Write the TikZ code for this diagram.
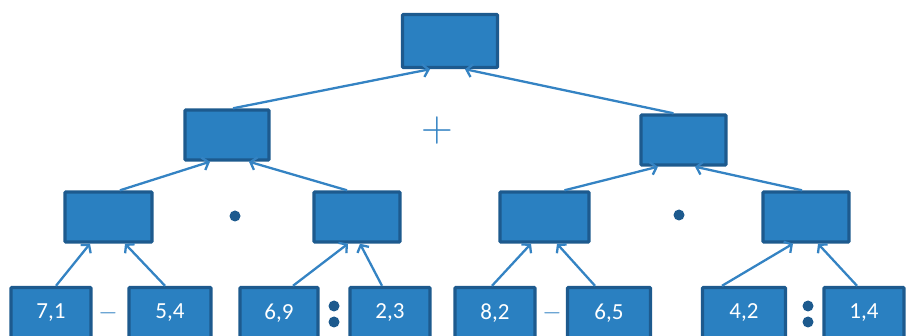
\documentclass[tikz,border=0pt]{standalone}
\usepackage{fontspec}
\newfontfamily\carlito{Carlito}
\usetikzlibrary{arrows.meta,calc}
\definecolor{boxfill}{HTML}{2A80C1}
\definecolor{boxline}{HTML}{1D5A8E}
\definecolor{arrowc}{HTML}{3483C3}
\begin{document}
\begin{tikzpicture}[x=1pt,y=-1pt,
  box/.style={draw=boxline,fill=boxfill,line width=3.4pt,rounded corners=1pt,
    minimum width=#1,minimum height=50pt,inner sep=0pt,text=white,
    font=\carlito\fontsize{23}{23}\selectfont},
  leaf/.style={box=#1,minimum height=51pt},
  arr/.style={draw=arrowc,line width=2.3pt,-{Straight Barb[length=5.5pt,width=13pt,line width=2.3pt]}},
  opdot/.style={circle,fill=boxline,inner sep=0pt,minimum size=11pt},
  optext/.style={text=arrowc,inner sep=0pt}]
\useasboundingbox (0,0) rectangle (907,336);
\clip (0,0) rectangle (907,336);
% top
\node[box=95pt,minimum height=53pt] (top) at (450,41) {};
% level 2
\node[box=84pt] (La) at (227,135) {};
\node[box=85pt] (Lb) at (683.5,140) {};
% level 3
\node[box=87pt] (Ma) at (108.5,217) {};
\node[box=86pt] (Mb) at (357,217) {};
\node[box=89pt] (Mc) at (544.5,217) {};
\node[box=86pt] (Md) at (806,217) {};
% leaves
\node[leaf=80pt] (b71) at (51,313) {7,1};
\node[leaf=82pt] (b54) at (170,313) {5,4};
\node[leaf=78pt] (b69) at (279,313) {6,9};
\node[leaf=80pt] (b23) at (390,313) {2,3};
\node[leaf=80pt] (b82) at (495,313) {8,2};
\node[leaf=83pt] (b65) at (609,313) {6,5};
\node[leaf=83pt] (b42) at (744,313) {4,2};
\node[leaf=80pt] (b14) at (864,313) {1,4};
% operators
\node[optext,font=\fontsize{44}{44}\selectfont] (plus) at (437,131) {+};
\node[opdot] (dota) at (235,216) {};
\node[opdot] (dotb) at (679,215) {};
\node[optext,font=\fontsize{24}{24}\selectfont] (mina) at (108,313) {$-$};
\node[optext,font=\fontsize{24}{24}\selectfont] (minb) at (552,313) {$-$};
\node[opdot] (cola1) at (334,306) {};
\node[opdot] (cola2) at (334,322) {};
\node[opdot] (colb1) at (808,306) {};
\node[opdot] (colb2) at (808,322) {};
% arrows to top
\draw[arr] ([xshift=6pt]La.north) -- ([xshift=-20pt]top.south);
\draw[arr] ([xshift=-10pt]Lb.north) -- ([xshift=15pt]top.south);
% level 3 -> level 2
\draw[arr] ([xshift=11.5pt]Ma.north) -- ([xshift=-17pt]La.south);
\draw[arr] ([xshift=-10pt]Mb.north) -- ([xshift=22pt]La.south);
\draw[arr] ([xshift=20pt]Mc.north) -- ([xshift=-25.5pt]Lb.south);
\draw[arr] ([xshift=-4pt]Md.north) -- ([xshift=11.5pt]Lb.south);
% leaves -> level 3
\draw[arr] ([xshift=5pt]b71.north) -- ([xshift=-18.5pt]Ma.south);
\draw[arr] ([xshift=-5pt]b54.north) -- ([xshift=16.5pt]Ma.south);
\draw[arr] ([xshift=14pt]b69.north) -- ([xshift=-9pt]Mb.south);
\draw[arr] ([xshift=-8pt]b23.north) -- ([xshift=3pt]Mb.south);
\draw[arr] ([xshift=-3pt]b82.north) -- ([xshift=-13.5pt]Mc.south);
\draw[arr] ([xshift=-14pt]b65.north) -- ([xshift=12.5pt]Mc.south);
\draw[arr] ([xshift=-22pt]b42.north) -- ([xshift=-13pt]Md.south);
\draw[arr] ([xshift=-7pt]b14.north) -- ([xshift=12pt]Md.south);
\end{tikzpicture}
\end{document}
